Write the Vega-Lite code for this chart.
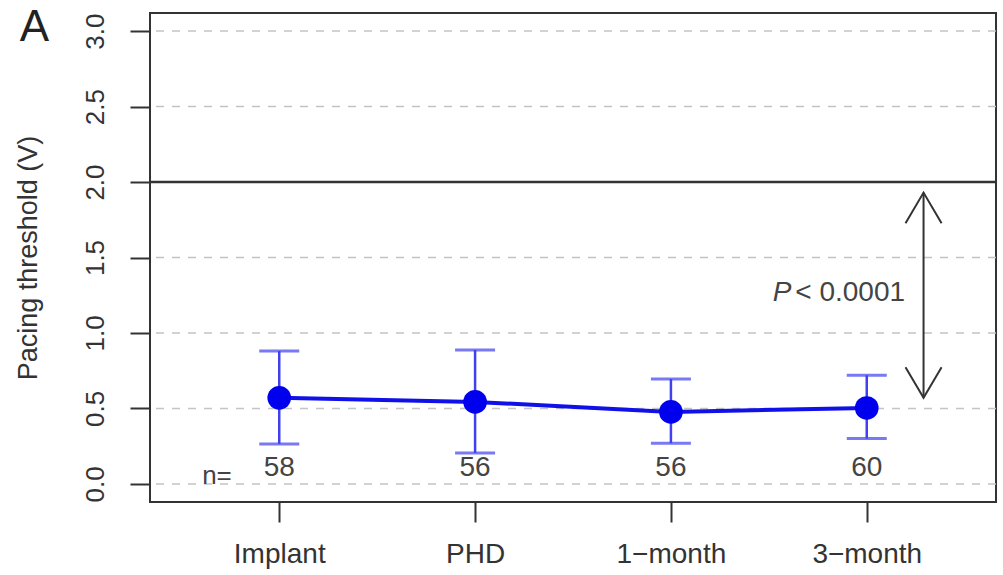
{
  "$schema": "https://vega.github.io/schema/vega-lite/v6.json",
  "autosize": "none",
  "width": 846,
  "height": 489,
  "padding": {"left": 150, "top": 13, "right": 7, "bottom": 73},
  "background": "white",
  "config": {
    "view": {"stroke": "#333333", "strokeWidth": 2},
    "font": "Liberation Sans"
  },
  "datasets": {
    "pts": [
      {"t": 1, "label": "Implant", "mean": 0.57, "lo": 0.265, "hi": 0.88, "n": "58"},
      {"t": 2, "label": "PHD", "mean": 0.543, "lo": 0.205, "hi": 0.887, "n": "56"},
      {"t": 3, "label": "1\u2212month", "mean": 0.477, "lo": 0.27, "hi": 0.695, "n": "56"},
      {"t": 4, "label": "3\u2212month", "mean": 0.503, "lo": 0.3, "hi": 0.72, "n": "60"}
    ]
  },
  "layer": [
    {
      "data": {"values": [{"g": 0}, {"g": 0.5}, {"g": 1.0}, {"g": 1.5}, {"g": 2.5}, {"g": 3.0}]},
      "mark": {"type": "rule", "color": "#c4c4c4", "strokeWidth": 1.5, "strokeDash": [8, 8]},
      "encoding": {
        "y": {"field": "g", "type": "quantitative", "scale": {"domain": [-0.12, 3.12], "nice": false, "zero": false},
          "axis": {"values": [0, 0.5, 1, 1.5, 2, 2.5, 3], "format": ".1f", "title": "Pacing threshold (V)", "domain": false, "grid": false,
            "tickSize": 20, "tickWidth": 2, "tickColor": "#333333", "labelAngle": -90, "labelFontSize": 26, "labelColor": "#333333",
            "labelPadding": 22, "labelAlign": "center", "labelBaseline": "bottom", "titleFontSize": 27, "titleFontWeight": "normal", "titleColor": "#333333", "titlePadding": 40}}
      }
    },
    {
      "data": {"values": [{"g": 2.0}]},
      "mark": {"type": "rule", "color": "#333333", "strokeWidth": 2.5},
      "encoding": {"y": {"field": "g", "type": "quantitative"}}
    },
    {
      "data": {"name": "pts"},
      "mark": {"type": "rule", "color": "#4040ee", "strokeWidth": 2.5},
      "encoding": {
        "x": {"field": "t", "type": "quantitative", "scale": {"domain": [0.34, 4.66], "nice": false, "zero": false},
          "axis": {"values": [1, 2, 3, 4], "title": null, "domain": false, "grid": false,
            "labelExpr": "['','Implant','PHD','1\u2212month','3\u2212month'][datum.value]",
            "tickSize": 20, "tickWidth": 2, "tickColor": "#333333", "labelFontSize": 28, "labelColor": "#333333", "labelPadding": 18}},
        "y": {"field": "lo", "type": "quantitative"},
        "y2": {"field": "hi"}
      }
    },
    {
      "data": {"name": "pts"},
      "mark": {"type": "tick", "color": "#4040ee", "orient": "horizontal", "size": 40, "thickness": 3},
      "encoding": {"x": {"field": "t", "type": "quantitative"}, "y": {"field": "lo", "type": "quantitative"}}
    },
    {
      "data": {"name": "pts"},
      "mark": {"type": "tick", "color": "#4040ee", "orient": "horizontal", "size": 40, "thickness": 3},
      "encoding": {"x": {"field": "t", "type": "quantitative"}, "y": {"field": "hi", "type": "quantitative"}}
    },
    {
      "data": {"name": "pts"},
      "mark": {"type": "line", "color": "#1010e8", "strokeWidth": 4},
      "encoding": {"x": {"field": "t", "type": "quantitative"}, "y": {"field": "mean", "type": "quantitative"}}
    },
    {
      "data": {"name": "pts"},
      "mark": {"type": "point", "filled": true, "color": "#0000ee", "size": 560, "opacity": 1},
      "encoding": {"x": {"field": "t", "type": "quantitative"}, "y": {"field": "mean", "type": "quantitative"}}
    },
    {
      "data": {"name": "pts"},
      "mark": {"type": "text", "fontSize": 28, "color": "#444444", "baseline": "middle"},
      "encoding": {"x": {"field": "t", "type": "quantitative"}, "y": {"datum": 0.105, "type": "quantitative"}, "text": {"field": "n"}}
    },
    {
      "data": {"values": [{"x": 0.682, "y": 0.055, "s": "n="}]},
      "mark": {"type": "text", "fontSize": 26, "color": "#444444", "baseline": "middle"},
      "encoding": {"x": {"field": "x", "type": "quantitative"}, "y": {"field": "y", "type": "quantitative"}, "text": {"field": "s"}}
    },
    {
      "data": {"values": [{"x": 4.29, "y1": 0.57, "y2": 1.93}]},
      "mark": {"type": "rule", "color": "#333333", "strokeWidth": 2},
      "encoding": {"x": {"field": "x", "type": "quantitative"}, "y": {"field": "y1", "type": "quantitative"}, "y2": {"field": "y2"}}
    },
    {
      "data": {"values": [{"x": 4.29, "y": 1.93}]},
      "mark": {"type": "point", "shape": "M-1,1.7L0,0L1,1.7", "filled": false, "color": "#333333", "strokeWidth": 2, "size": 1300, "opacity": 1},
      "encoding": {"x": {"field": "x", "type": "quantitative"}, "y": {"field": "y", "type": "quantitative"}}
    },
    {
      "data": {"values": [{"x": 4.29, "y": 0.57}]},
      "mark": {"type": "point", "shape": "M-1,-1.7L0,0L1,-1.7", "filled": false, "color": "#333333", "strokeWidth": 2, "size": 1300, "opacity": 1},
      "encoding": {"x": {"field": "x", "type": "quantitative"}, "y": {"field": "y", "type": "quantitative"}}
    },
    {
      "data": {"values": [{"x": 3.6155, "y": 1.267, "s": "P"}]},
      "mark": {"type": "text", "fontSize": 28, "fontStyle": "italic", "color": "#444444", "align": "right", "baseline": "middle"},
      "encoding": {"x": {"field": "x", "type": "quantitative"}, "y": {"field": "y", "type": "quantitative"}, "text": {"field": "s"}}
    },
    {
      "data": {"values": [{"x": 3.635, "y": 1.267, "s": "< 0.0001"}]},
      "mark": {"type": "text", "fontSize": 28, "color": "#444444", "align": "left", "baseline": "middle"},
      "encoding": {"x": {"field": "x", "type": "quantitative"}, "y": {"field": "y", "type": "quantitative"}, "text": {"field": "s"}}
    },
    {
      "data": {"values": [{"x": -0.25, "y": 3.02, "s": "A"}]},
      "mark": {"type": "text", "fontSize": 44, "color": "#222222", "align": "center", "baseline": "middle"},
      "encoding": {"x": {"field": "x", "type": "quantitative"}, "y": {"field": "y", "type": "quantitative"}, "text": {"field": "s"}}
    }
  ]
}
